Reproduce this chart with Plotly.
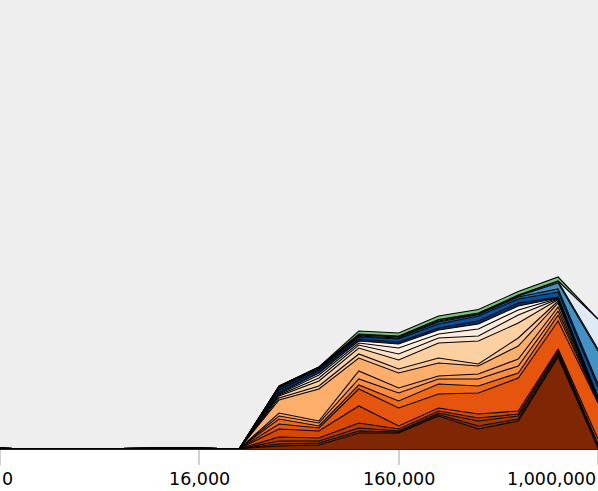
import plotly.graph_objects as go

# ---------------------------------------------------------------
# DATA: 16 bins along the x axis, 22 stacked layers (bottom -> top)
# ---------------------------------------------------------------
bins = list(range(16))
tick_bins = [0, 5, 10, 15]
tick_labels = ["0", "16,000", "160,000", "1,000,000"]

layer_colors = [
    "#7f2704", "#8c2d04", "#a63603", "#b83d02", "#d94801", "#e6550d",
    "#f16913", "#fd8d3c", "#fda05a", "#fdae6b", "#fdc692", "#fdd0a2",
    "#fee3c8", "#feedde", "#fff5eb",
    "#08306b", "#08519c", "#2171b5", "#4292c6", "#c6dbef", "#deebf7",
    "#74c476",
]

layer_01 = [0.5, 0, 0, 0.3, 0.3, 0.3, 0.3, 3, 4, 16, 16, 33, 20, 28, 92, 1]
layer_02 = [0, 0, 0, 0, 0, 0, 0, 2, 2, 2, 1, 1.5, 3, 2, 2, 1]
layer_03 = [0, 0, 0, 0, 0, 0, 0, 3, 2, 3, 1, 1.5, 5, 3, 2, 1]
layer_04 = [0, 0, 0, 0, 0, 0, 0, 4, 3, 5, 2, 2, 3, 2, 2, 2]
layer_05 = [0, 0, 0, 0, 0, 0, 0, 8, 7, 17, 3, 3, 4, 3, 2, 5]
layer_06 = [0.3, 0, 0.2, 0.3, 0.3, 0.3, 0, 5, 3, 17, 18, 14, 21, 33, 28, 36]
layer_07 = [0, 0, 0, 0, 0, 0, 0, 5, 2, 4, 7, 10, 7, 5, 6, 1.5]
layer_08 = [0, 0, 0, 0, 0, 0, 0, 3, 3, 6, 8, 5, 7, 7, 4, 0.5]
layer_09 = [0, 0, 0, 0, 0, 0, 0, 3, 2, 8, 5, 3, 5, 7, 4, 0.5]
layer_10 = [0, 0, 0, 0, 0, 0, 0, 13, 32, 13, 15, 13, 8, 13, 4, 0.5]
layer_11 = [0, 0, 0, 0, 0, 0, 0, 2, 3, 4, 4, 5, 2, 8, 2, 0.3]
layer_12 = [0, 0, 0, 0, 0, 0, 0, 2, 5, 6, 9, 15, 23, 15, 1.5, 0.3]
layer_13 = [0, 0, 0, 0, 0, 0, 0, 1, 3, 3, 6, 5, 5, 8, 0.5, 0.3]
layer_14 = [0, 0, 0, 0, 0, 0, 0, 1, 3, 2, 6, 4, 7, 5, 0.5, 0.3]
layer_15 = [0, 0, 0, 0, 0, 0, 0, 1, 2, 2, 4, 4, 5, 4, 0.5, 0.3]
layer_16 = [0, 0, 0, 0, 0, 0, 0, 3, 3, 2, 2, 2, 3, 3, 1, 1.5]
layer_17 = [0, 0, 0, 0, 0, 0, 0, 2, 1.5, 2, 3, 4, 5, 4, 5, 10]
layer_18 = [0, 0, 0, 0, 0, 0, 0, 1, 0.7, 1, 1, 2, 1.5, 2, 3, 3]
layer_19 = [0, 0, 0, 0, 0, 0, 0, 0.5, 0.4, 1, 1, 1, 0.5, 1, 6, 33]
layer_20 = [0, 0, 0, 0, 0, 0, 0, 0.2, 0.2, 0.5, 0.5, 1, 0.5, 0.5, 1.5, 2]
layer_21 = [0, 0, 0, 0, 0, 0, 0, 0.1, 0.1, 0.5, 0.5, 0.5, 0.5, 0.5, 0.5, 30]
layer_22 = [0, 0, 0, 0, 0, 0, 0, 0.2, 0.1, 3, 3, 3.5, 3.5, 3.5, 4, 0]

layers = [
    layer_01, layer_02, layer_03, layer_04, layer_05, layer_06, layer_07,
    layer_08, layer_09, layer_10, layer_11, layer_12, layer_13, layer_14,
    layer_15, layer_16, layer_17, layer_18, layer_19, layer_20, layer_21,
    layer_22,
]

fig = go.Figure()

for values, color in zip(layers, layer_colors):
    fig.add_trace(go.Scatter(
        x=bins,
        y=values,
        mode="lines",
        stackgroup="one",
        fillcolor=color,
        line=dict(color="black", width=1.1),
        showlegend=False,
        hoverinfo="skip",
    ))

# tick labels as annotations so the outer ones stay inside the page
for pos, label in zip(tick_bins, tick_labels):
    anchor = "center"
    if pos == tick_bins[0]:
        anchor = "left"
    elif pos == tick_bins[-1]:
        anchor = "right"
    fig.add_annotation(
        x=pos, y=0, xref="x", yref="paper",
        text=label, showarrow=False,
        xanchor=anchor, yanchor="top", yshift=-18,
        font=dict(family="DejaVu Sans, Verdana, sans-serif", size=17.5, color="black"),
    )

fig.update_layout(
    width=598,
    height=491,
    margin=dict(l=0, r=0, t=0, b=42),
    plot_bgcolor="#eeeeee",
    paper_bgcolor="white",
    xaxis=dict(
        range=[0, 15],
        tickvals=tick_bins,
        showticklabels=False,
        ticks="outside",
        ticklen=15,
        tickwidth=2,
        tickcolor="#d0d0d0",
        showgrid=False,
        zeroline=False,
        showline=True,
        linecolor="#222222",
        linewidth=1,
    ),
    yaxis=dict(
        range=[0, 449],
        visible=False,
    ),
)

# the page's default body margin would shift the chart by 8px
fig.write_html(
    "out.html",
    config={"displayModeBar": False},
    post_script="document.body.style.margin='0';",
)
